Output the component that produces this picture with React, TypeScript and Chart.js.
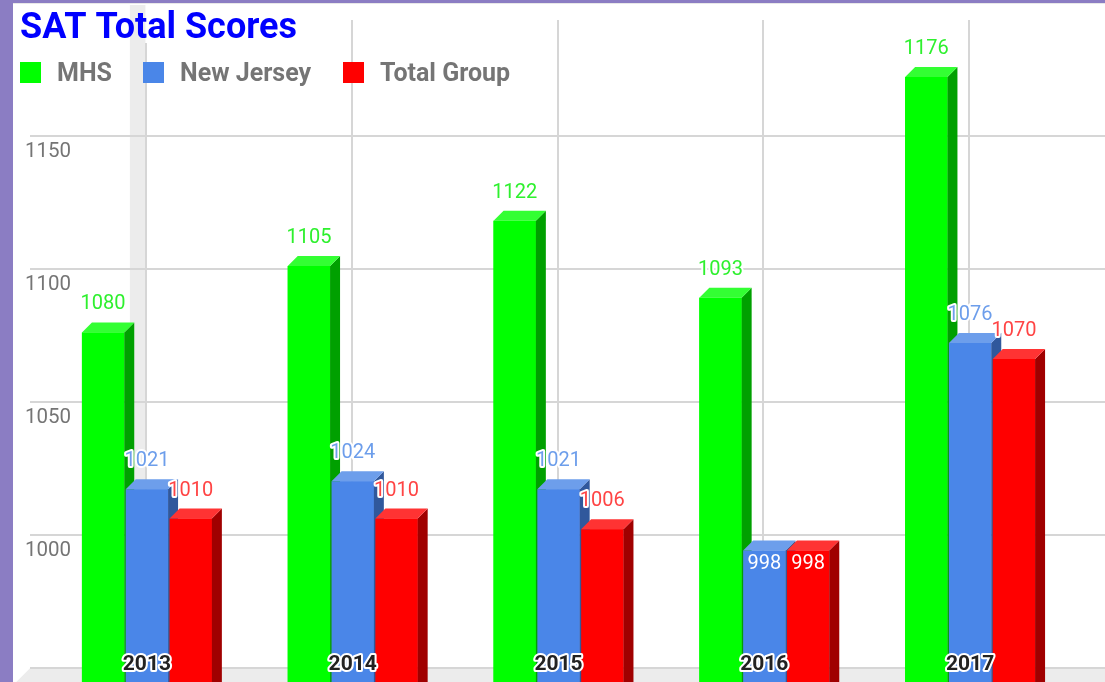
import React, { useEffect, useRef } from 'react';
import { Chart, registerables } from 'chart.js';

Chart.register(...registerables);

// ---- data ----
const categories = ['2013', '2014', '2015', '2016', '2017'];
const seriesNames = ['MHS', 'New Jersey', 'Total Group'];
const mhsScores = [1080, 1105, 1122, 1093, 1176];
const njScores = [1021, 1024, 1021, 998, 1076];
const totalGroupScores = [1010, 1010, 1006, 998, 1070];
const yTickLabels = [1000, 1050, 1100, 1150];
const gridValues = [1000, 1050, 1100, 1150];
const floorValue = 950;
const titleText = 'SAT Total Scores';

// ---- styles ----
const FRONT = ['#00ff00', '#4a86e8', '#ff0000'];
const SIDE = ['#00a000', '#30589c', '#a00000'];
const TOP = ['#33ff33', '#6d9eeb', '#ff3333'];
const LABEL = ['#2ef02e', '#6d9eeb', '#ff4444'];
const DX = 10;
const DY = 10;
const W = 1105;
const H = 740;

const scenery = {
  id: 'scenery',
  beforeDraw(chart: any) {
    const ctx = chart.ctx as CanvasRenderingContext2D;
    const xs = chart.scales.x;
    const ys = chart.scales.y;
    ctx.save();
    ctx.fillStyle = '#8b7dc3';
    ctx.fillRect(0, 0, chart.width, chart.height);
    ctx.fillStyle = '#ffffff';
    ctx.fillRect(13, 3, chart.width - 13, chart.height - 3);
    ctx.fillStyle = '#e8e8e8';
    ctx.fillRect(13, 3, chart.width - 13, 1);

    const floorY = ys.getPixelForValue(floorValue) - DY;
    // left wall strip
    const firstX = xs.getPixelForValue(0);
    ctx.fillStyle = '#ececec';
    ctx.fillRect(firstX - 17, 5, 15.5, floorY - 5);
    // floor
    ctx.beginPath();
    ctx.moveTo(30, floorY);
    ctx.lineTo(chart.width, floorY);
    ctx.lineTo(chart.width, chart.height);
    ctx.lineTo(30 - (chart.height - floorY), chart.height);
    ctx.closePath();
    ctx.fillStyle = '#ececec';
    ctx.fill();

    ctx.strokeStyle = '#d6d6d6';
    ctx.lineWidth = 2;
    // horizontal gridlines (back plane)
    [...gridValues, floorValue].forEach((v) => {
      const y = Math.round(ys.getPixelForValue(v) - DY);
      ctx.beginPath();
      ctx.moveTo(30, y);
      ctx.lineTo(chart.width, y);
      ctx.stroke();
    });
    // vertical gridlines
    categories.forEach((_, i) => {
      const x = Math.round(xs.getPixelForValue(i) - 1);
      ctx.beginPath();
      ctx.moveTo(x, i === 0 ? 43 : 20);
      ctx.lineTo(x, floorY);
      ctx.stroke();
    });

    // y tick labels
    ctx.font = '20.5px Roboto';
    ctx.fillStyle = '#757575';
    ctx.textAlign = 'left';
    ctx.textBaseline = 'alphabetic';
    yTickLabels.forEach((v) => {
      ctx.fillText(String(v), 25, ys.getPixelForValue(v) + 10.8);
    });

    // title
    ctx.font = 'bold 36px Roboto';
    ctx.fillStyle = '#0000ff';
    ctx.fillText(titleText, 20, 38);

    // legend
    const legendX = [20, 143, 343];
    ctx.font = 'bold 25px Roboto';
    seriesNames.forEach((name, i) => {
      ctx.fillStyle = FRONT[i];
      ctx.fillRect(legendX[i], 62, 21, 21);
      ctx.fillStyle = '#757575';
      ctx.fillText(name, legendX[i] + 37, 80.5);
    });
    ctx.restore();
  },
  afterDatasetsDraw(chart: any) {
    const ctx = chart.ctx as CanvasRenderingContext2D;
    const xs = chart.scales.x;
    ctx.save();
    // redraw bars series by series (first series at the back) with 3D faces
    chart.data.datasets.forEach((_: any, d: number) => {
      const meta = chart.getDatasetMeta(d);
      meta.data.forEach((el: any) => {
        el.draw(ctx, chart.chartArea);
        const { x, y, base, width } = el.getProps(['x', 'y', 'base', 'width'], true);
        const x1 = x - width / 2;
        const x2 = x + width / 2;
        ctx.beginPath();
        ctx.moveTo(x2, y);
        ctx.lineTo(x2 + DX, y - DY);
        ctx.lineTo(x2 + DX, base - DY);
        ctx.lineTo(x2, base);
        ctx.closePath();
        ctx.fillStyle = SIDE[d];
        ctx.fill();
        ctx.beginPath();
        ctx.moveTo(x1, y);
        ctx.lineTo(x1 + DX, y - DY);
        ctx.lineTo(x2 + DX, y - DY);
        ctx.lineTo(x2, y);
        ctx.closePath();
        ctx.fillStyle = TOP[d];
        ctx.fill();
      });
    });

    ctx.textAlign = 'center';
    ctx.textBaseline = 'alphabetic';
    ctx.lineJoin = 'round';
    chart.data.datasets.forEach((ds: any, d: number) => {
      const meta = chart.getDatasetMeta(d);
      meta.data.forEach((el: any, i: number) => {
        const v = ds.data[i];
        const { x, y } = el.getProps(['x', 'y'], true);
        ctx.font = '20px Roboto';
        if (v < 1000) {
          ctx.fillStyle = '#ffffff';
          ctx.fillText(String(v), x, y + 11 + 7);
        } else {
          const by = y - 30 + 7;
          ctx.strokeStyle = '#ffffff';
          ctx.lineWidth = 4;
          ctx.strokeText(String(v), x, by);
          ctx.fillStyle = LABEL[d];
          ctx.fillText(String(v), x, by);
        }
      });
    });
    ctx.font = 'bold 21px Roboto';
    categories.forEach((c, i) => {
      const x = xs.getPixelForValue(i);
      ctx.strokeStyle = '#ffffff';
      ctx.lineWidth = 4;
      ctx.strokeText(c, x, 670);
      ctx.fillStyle = '#222222';
      ctx.fillText(c, x, 670);
    });
    ctx.restore();
  },
};

export default function App() {
  const ref = useRef<HTMLCanvasElement | null>(null);
  useEffect(() => {
    if (!ref.current) return;
    const seriesData = [mhsScores, njScores, totalGroupScores];
    const chart = new Chart(ref.current, {
      type: 'bar',
      data: {
        labels: categories,
        datasets: seriesNames.map((name, i) => ({
          label: name,
          data: seriesData[i],
          backgroundColor: FRONT[i],
          borderWidth: 0,
          categoryPercentage: 0.6386,
          barPercentage: 0.966,
        })),
      },
      options: {
        responsive: false,
        animation: false,
        events: [],
        layout: { padding: { left: 44, right: 32, top: 13.2, bottom: 8.6 } },
        plugins: {
          legend: { display: false },
          title: { display: false },
          tooltip: { enabled: false },
        },
        scales: {
          x: { display: false },
          y: { display: false, min: 930, max: 1200 },
        },
      },
      plugins: [scenery],
    } as any);
    return () => chart.destroy();
  }, []);
  return (
    <div style={{ position: 'fixed', left: 0, top: 0, width: W, height: 682, overflow: 'hidden', background: '#8b7dc3' }}>
      <canvas ref={ref} width={W} height={H} style={{ display: 'block', width: W, height: H }} />
    </div>
  );
}
